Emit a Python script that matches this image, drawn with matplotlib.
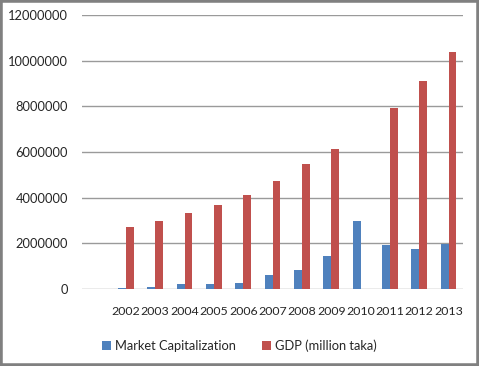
import numpy as np
import matplotlib
matplotlib.use("Agg")
import matplotlib.pyplot as plt
from matplotlib.patches import Rectangle

years = ["2002", "2003", "2004", "2005", "2006", "2007", "2008",
         "2009", "2010", "2011", "2012", "2013"]
market_cap = [30000, 70000, 220000, 210000, 270000, 600000, 810000,
              1460000, 2960000, 1910000, 1730000, 1980000]
gdp = [2700000, 2980000, 3310000, 3680000, 4130000, 4710000, 5460000,
       6110000, np.nan, 7930000, 9130000, 10360000]
yticks = [0, 2000000, 4000000, 6000000, 8000000, 10000000, 12000000]

plt.rcParams['font.family'] = ['Lato', 'DejaVu Sans']

fig = plt.figure(figsize=(4.79, 3.66), dpi=100)
ax = fig.add_axes([0.171, 0.2104, 0.796, 0.7486])

x = np.arange(len(years))
w = 0.27
ax.bar(x - w / 2, market_cap, width=w, color='#4F81BD', label='Market Capitalization')
ax.bar(x + w / 2, gdp, width=w, color='#C0504D', label='GDP (million taka)')

ax.set_xlim(-1.5, len(years) - 0.5)
ax.set_ylim(0, 12000000)
ax.set_yticks(yticks)
ax.set_yticklabels([str(v) for v in yticks])
ax.set_xticks(x)
ax.set_xticklabels(years)
ax.tick_params(axis='both', length=0, colors='#262626')
ax.tick_params(axis='y', pad=10, labelsize=9.3)
ax.tick_params(axis='x', pad=12, labelsize=8.9)
ax.grid(axis='y', color='#9a9a9a', linewidth=1)
ax.set_axisbelow(True)
for s in ax.spines.values():
    s.set_visible(False)

fig.legend(loc='center', bbox_to_anchor=(0.5, 0.055), ncol=2, frameon=False,
           fontsize=9.3, handlelength=0.7, handleheight=0.7, handletextpad=0.3,
           columnspacing=2.0, labelcolor='#262626')

fig.patches.append(Rectangle((0, 0), 1, 1, transform=fig.transFigure,
                             fill=False, edgecolor='#808080', linewidth=4))
fig.savefig("out.png", dpi=100)
